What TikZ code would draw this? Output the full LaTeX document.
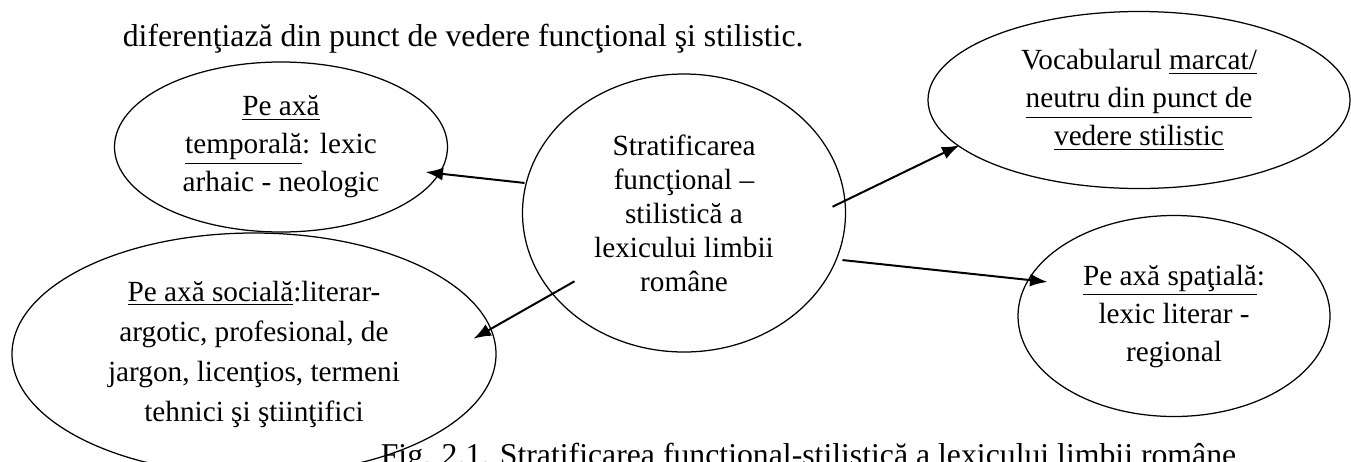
\documentclass[tikz,border=0pt]{standalone}
\usepackage{fontspec}
\setmainfont{Liberation Serif}
\usetikzlibrary{shapes.geometric, arrows.meta}

\begin{document}
\begin{tikzpicture}[x=0.4pt, y=-0.4pt,
    oval/.style={draw, ellipse, line width=0.5pt, inner sep=0, align=center,
      font=\fontsize{11.7}{15.2}\selectfont},
    body/.style={anchor=base west, font=\fontsize{12.7}{15}\selectfont},
    arr/.style={-{Latex[length=7pt, width=5.2pt]}, thick}]
  \useasboundingbox (0,0) rectangle (1351,461);

  \node[body] (intro) at (114, 46)
    {diferenţiază din punct de vedere funcţional şi stilistic.};

  \node[oval, minimum width=133.2pt, minimum height=68pt]
    (tmp) at (281, 147) {\underline{Pe axă}\\\underline{temporală}: lexic\\arhaic - neologic};

  \node[oval, minimum width=129.2pt, minimum height=111.2pt,
        font=\fontsize{11.7}{13.6}\selectfont]
    (cen) at (684, 213) {Stratificarea\\funcţional –\\stilistică a\\lexicului limbii\\române};

  \node[oval, minimum width=193.6pt, minimum height=96.8pt,
        font=\fontsize{11.7}{16}\selectfont]
    (soc) at (254, 354) {\underline{Pe axă socială}:literar-\\argotic, profesional, de\\jargon, licenţios, termeni\\tehnici şi ştiinţifici};

  \node[oval, minimum width=168.8pt, minimum height=70.8pt]
    (voc) at (1139, 100) {Vocabularul \underline{marcat/}\\\underline{neutru din punct de}\\\underline{vedere stilistic}};

  \node[oval, minimum width=124.8pt, minimum height=80.4pt]
    (spa) at (1174, 316) {\underline{Pe axă spaţială}:\\lexic literar -\\regional};

  \node[body] (cap) at (372, 465)
    {Fig. 2.1. Stratificarea funcţional-stilistică a lexicului limbii române};

  % start and end points of the arrows
  \node[inner sep=0, minimum size=0] (A1) at (525, 183) {};
  \node[inner sep=0, minimum size=0] (A2) at (575, 281) {};
  \node[inner sep=0, minimum size=0] (A3) at (832, 207) {};
  \node[inner sep=0, minimum size=0] (A4) at (842, 260) {};

  \node[inner sep=0, minimum size=0] (T1) at (425, 172) {};
  \node[inner sep=0, minimum size=0] (T2) at (473, 339) {};
  \node[inner sep=0, minimum size=0] (T3) at (960, 145) {};
  \node[inner sep=0, minimum size=0] (T4) at (1048, 282) {};

  \draw[arr]
    (A1) edge (T1)
    (A2) edge (T2)
    (A3) edge (T3)
    (A4) edge (T4);
\end{tikzpicture}
\end{document}
